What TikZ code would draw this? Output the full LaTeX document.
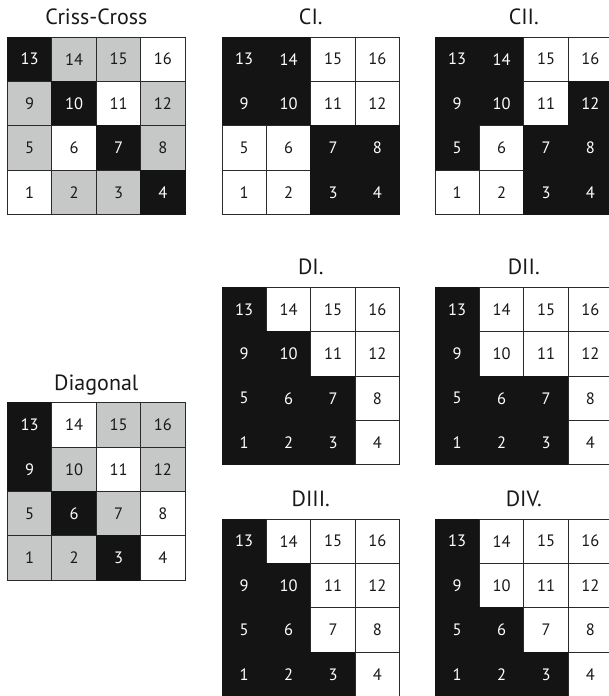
\documentclass[tikz,border=0pt]{standalone}
\usepackage{fontspec}
\setmainfont{PT Sans}
\definecolor{cblack}{HTML}{141414}
\definecolor{cgray}{HTML}{C6C8C7}
\definecolor{cline}{HTML}{2A2A2A}
\newcommand{\cs}{44.4}
\newcommand{\drawgrid}[4]{%
  \foreach \c [count=\i from 0] in {#4} {
    \pgfmathtruncatemacro\row{int(\i/4)}
    \pgfmathtruncatemacro\col{mod(\i,4)}
    \pgfmathtruncatemacro\num{13-4*\row+\col}
    \node[cell\c] (#1\num) at ({#2+(\col+0.5)*\cs},{-(#3)-(\row+0.5)*\cs}) {\num};
  }}
\begin{document}
\begin{tikzpicture}[x=1pt,y=1pt,
  cellbase/.style={line width=0.9pt, minimum size=44.4pt, inner sep=0pt, font=\fontsize{16.5}{18}\selectfont},
  cellB/.style={cellbase, draw=cblack, fill=cblack, text=white},
  cellG/.style={cellbase, draw=cline, fill=cgray, text=black!90},
  cellW/.style={cellbase, draw=cline, fill=white, text=black!90},
  title/.style={anchor=base, inner sep=0pt, font=\fontsize{22}{24}\selectfont, text=black!90}]
\useasboundingbox (0,0) rectangle (609,-696);
\fill[white] (0,0) rectangle (609,-696);
% Criss-Cross
\node[title] (tcc) at (96.3,-24) {Criss-Cross};
\drawgrid{cc}{7.5}{37}{B,G,G,W,G,B,W,G,G,W,B,G,W,G,G,B}
% CI
\node[title] (tci) at (310.8,-24) {CI.};
\drawgrid{ci}{222}{37}{B,B,W,W,B,B,W,W,W,W,B,B,W,W,B,B}
% CII
\node[title] (tcii) at (523.8,-24) {CII.};
\drawgrid{cii}{435}{37}{B,B,W,W,B,B,W,B,B,W,B,B,W,W,B,B}
% Diagonal
\node[title] (tdiag) at (96.3,-390) {Diagonal};
\drawgrid{dg}{7.5}{402.7}{B,W,G,G,B,G,W,G,G,B,G,W,G,G,B,W}
% DI
\node[title] (tdi) at (310.8,-274) {DI.};
\drawgrid{di}{222}{287.3}{B,W,W,W,B,B,W,W,B,B,B,W,B,B,B,W}
% DII
\node[title] (tdii) at (523.8,-274) {DII.};
\drawgrid{dii}{435}{287.3}{B,W,W,W,B,W,W,W,B,B,B,W,B,B,B,W}
% DIII
\node[title] (tdiii) at (310.8,-506) {DIII.};
\drawgrid{diii}{222}{519}{B,W,W,W,B,B,W,W,B,B,W,W,B,B,B,W}
% DIV
\node[title] (tdiv) at (523.8,-506) {DIV.};
\drawgrid{div}{435}{519}{B,W,W,W,B,W,W,W,B,B,W,W,B,B,B,W}
\end{tikzpicture}
\end{document}
